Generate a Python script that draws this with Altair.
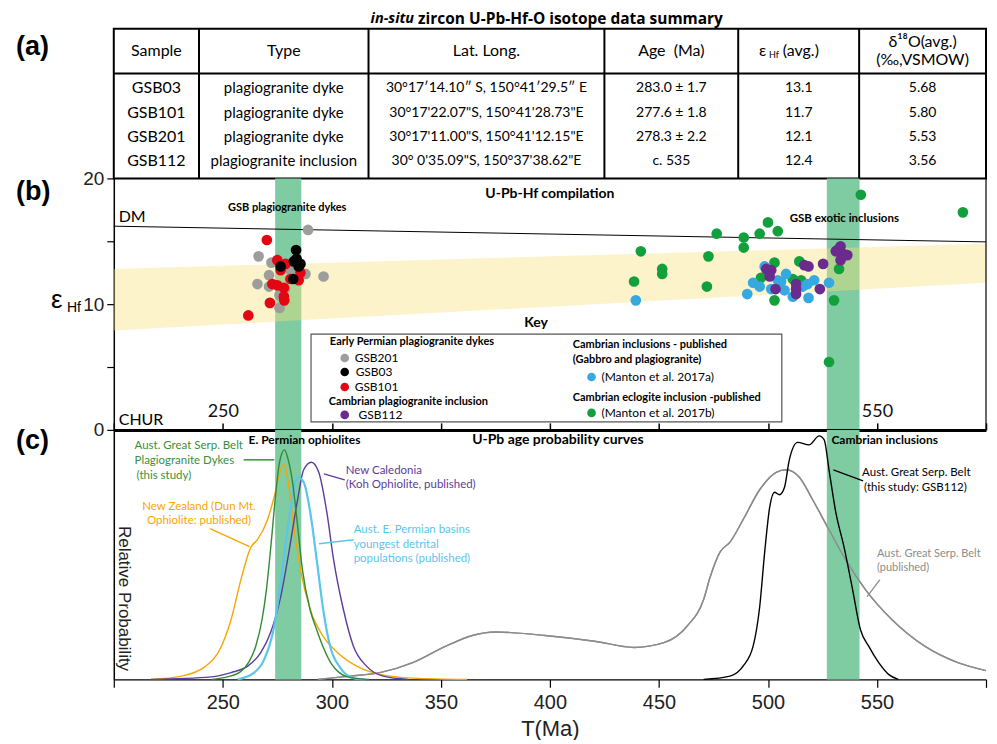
import altair as alt
import pandas as pd

FONT = "Lato"
NUM = "Liberation Sans"

# ---------------- (a) summary table ----------------
tbl_sample = ["GSB03", "GSB101", "GSB201", "GSB112"]
tbl_type = ["plagiogranite dyke", "plagiogranite dyke", "plagiogranite dyke", "plagiogranite inclusion"]
tbl_latlong = ["30°17′14.10″ S, 150°41′29.5″ E", "30°17'22.07\"S, 150°41'28.73\"E",
               "30°17'11.00\"S, 150°41'12.15\"E", "30° 0'35.09\"S, 150°37'38.62\"E"]
tbl_age = ["283.0 ± 1.7", "277.6 ± 1.8", "278.3 ± 2.2", "c. 535"]
tbl_ehf = ["13.1", "11.7", "12.1", "12.4"]
tbl_d18o = ["5.68", "5.80", "5.53", "3.56"]

# ---------------- (b) eHf vs age ----------------
gsb201_age = [266.4, 272.3, 271.2, 265.9, 271.2, 276.0, 276.0, 287.9, 296.2, 289.1, 281.0, 278.5]
gsb201_ehf = [13.8, 13.3, 12.3, 11.6, 11.4, 10.7, 9.7, 12.4, 12.2, 15.9, 12.7, 11.2]
gsb101_age = [270.2, 275.0, 278.8, 276.5, 281.0, 284.8, 272.7, 275.0, 278.0, 278.0, 278.2, 271.6, 261.7, 285.6, 284.1]
gsb101_ehf = [15.1, 13.5, 13.2, 12.7, 12.0, 11.9, 11.6, 11.5, 11.3, 10.6, 10.3, 10.1, 9.1, 12.5, 13.4]
gsb03_age = [283.6, 282.6, 285.6, 284.8, 276.5, 282.3, 283.8]
gsb03_ehf = [14.3, 13.4, 13.2, 13.0, 13.0, 12.0, 13.6]
mantonb_age = [441.7, 438.6, 451.5, 451.5, 472.0, 472.7, 476.5, 488.9, 488.9, 496.2, 500.0, 504.5,
               503.0, 503.0, 496.8, 514.4, 515.2, 511.4, 530.3, 532.6, 528.0, 542.6, 589.4]
mantonb_ehf = [14.2, 11.8, 12.8, 12.4, 11.4, 13.8, 15.6, 15.3, 14.5, 15.6, 16.5, 15.8,
               13.3, 10.3, 12.1, 13.4, 11.9, 12.0, 10.3, 12.8, 5.4, 18.7, 17.3]
mantona_age = [439.4, 490.5, 493.2, 498.5, 496.2, 501.5, 504.5, 508.3, 507.6, 511.4, 515.9, 518.6,
               521.2, 528.0, 518.2, 506.0]
mantona_ehf = [10.3, 10.8, 11.7, 13.0, 11.4, 11.2, 11.9, 12.4, 11.1, 10.6, 11.4, 10.5,
               11.9, 11.7, 11.6, 11.8]
gsb112_age = [499.2, 501.5, 500.8, 503.5, 512.9, 512.9, 512.9, 516.7, 518.6, 525.3, 523.8,
              531.8, 533.3, 536.4, 533.3, 531.1, 534.5]
gsb112_ehf = [12.8, 12.7, 12.2, 11.2, 11.6, 10.8, 11.2, 13.1, 13.0, 13.2, 11.2,
              14.3, 14.6, 13.9, 13.5, 14.2, 14.0]

dm_age = [200, 600]
dm_ehf = [16.2, 14.95]
band_age = [200, 600]
band_lo = [7.9, 11.7]
band_hi = [12.8, 14.8]
bar_start = [274, 527]
bar_end = [286, 542]

# ---------------- (c) probability curves ----------------
dyke_age = [245, 252, 258, 262, 265, 268, 270, 272, 274, 276, 278.3, 280, 282, 284, 286.5, 290, 293, 296, 300, 303, 307, 312, 317]
dyke_p = [0, 0.01, 0.03, 0.07, 0.13, 0.24, 0.36, 0.53, 0.72, 0.87, 0.92, 0.88, 0.79, 0.64, 0.44, 0.28, 0.2, 0.13, 0.06, 0.03, 0.01, 0.003, 0]
nz_age = [217, 231, 241.7, 249.2, 253.8, 258.3, 262.9, 265.9, 270.5, 273.5, 276.5, 278.3, 280.3, 282.6, 285.6, 290.1, 296.2, 302.3, 311.4, 322, 337, 362]
nz_p = [0, 0.013, 0.05, 0.13, 0.24, 0.40, 0.53, 0.56, 0.64, 0.73, 0.84, 0.86, 0.77, 0.61, 0.44, 0.28, 0.17, 0.11, 0.053, 0.02, 0.005, 0]
nc_age = [217, 244.7, 253.8, 261.4, 267.4, 272, 276.5, 280.3, 284.1, 287.1, 290.6, 294, 297.7, 300.8, 305.3, 309.9, 315.9, 323.5, 335]
nc_p = [0, 0.01, 0.027, 0.053, 0.107, 0.19, 0.33, 0.51, 0.71, 0.84, 0.87, 0.83, 0.67, 0.48, 0.28, 0.133, 0.053, 0.013, 0]
basin_age = [256.8, 264.4, 269, 273.5, 277.3, 280.3, 282.6, 284.5, 287.1, 290.1, 293.2, 296.2, 299.2, 303.8, 309.9, 315]
basin_p = [0, 0.027, 0.08, 0.21, 0.44, 0.64, 0.77, 0.81, 0.79, 0.67, 0.47, 0.27, 0.133, 0.047, 0.005, 0]
gsbpub_age = [293.6, 308.3, 322, 337.1, 352.3, 364.4, 375, 397.7, 420.5, 438.6, 452.3, 462.9, 470.5, 473.5, 478,
              482.6, 488.6, 496.2, 503.8, 508.3, 514.4, 520.5, 528, 535.6, 544.7, 556.8, 571.9, 587.1, 600]
gsbpub_p = [0, 0.013, 0.027, 0.067, 0.133, 0.176, 0.19, 0.176, 0.153, 0.128, 0.147, 0.213, 0.32, 0.41, 0.51,
            0.55, 0.64, 0.76, 0.83, 0.84, 0.81, 0.72, 0.6, 0.48, 0.36, 0.24, 0.133, 0.067, 0.035]
gsb112c_age = [470.5, 482.6, 488.6, 493.2, 496.2, 498.5, 500.8, 503, 505.3, 507.6, 509.8, 513.6, 518.9, 523.5,
               525.8, 528, 531.1, 534.9, 538.6, 542.4, 546.2, 550.8, 555.3, 559.8]
gsb112c_p = [0, 0.013, 0.053, 0.133, 0.29, 0.51, 0.69, 0.75, 0.74, 0.77, 0.88, 0.95, 0.94, 0.976,
             0.96, 0.84, 0.67, 0.53, 0.37, 0.2, 0.133, 0.067, 0.02, 0]

tick_vals = [200, 250, 300, 350, 400, 450, 500, 550, 600]

# ---------------- styling / layout ----------------
W = 874              # plot width (keeps the page from being scaled down)
K = W / 880.0        # horizontal factor for annotation placement
HA, HB, HC = 150, 252, 250
XSCALE = alt.Scale(domain=[200, 600], nice=False, zero=False)
BAR_GREEN = "#7fcba2"


def txt(text, x, y, size=12, bold=False, color="#000", align="left", italic=False, font=FONT, angle=None):
    props = dict(fontSize=size, fontWeight="bold" if bold else "normal", color=color,
                 align=align, baseline="middle", font=font)
    if italic:
        props["fontStyle"] = "italic"
    if angle is not None:
        props["angle"] = angle
    return alt.Chart(pd.DataFrame({"t": [text]})).mark_text(**props).encode(
        x=alt.value(x * K if x >= 0 else x), y=alt.value(y), text="t:N")


def seg(x1, y1, x2, y2, color="#000", width=1.0, opacity=1.0):
    return alt.Chart(pd.DataFrame({"k": [0]})).mark_rule(color=color, strokeWidth=width, opacity=opacity).encode(
        x=alt.value(x1 * K if x1 >= 0 else x1), y=alt.value(y1),
        x2=alt.value(x2 * K if x2 >= 0 else x2), y2=alt.value(y2))


# ================= panel (a) =================
col_edges = [0, 86, 257, 495, 630, 752, 880]
col_c = [(col_edges[i] + col_edges[i + 1]) / 2 for i in range(6)]
row_y = [59, 84, 109, 133]
a_layers = [seg(-106, -28, -105, -28, opacity=0)]
a_layers.append(alt.Chart(pd.DataFrame({"k": [0]})).mark_rect(
    fill="white", fillOpacity=0, stroke="black", strokeWidth=2).encode(
    x=alt.value(0), x2=alt.value(W), y=alt.value(0), y2=alt.value(HA)))
for e in col_edges[1:-1]:
    a_layers.append(seg(e, 0, e, HA, width=2))
a_layers.append(seg(0, 45, 880, 45, width=2))
TS = 16
a_layers += [
    txt("Sample", col_c[0], 22, TS, align="center"),
    txt("Type", col_c[1], 22, TS, align="center"),
    txt("Lat. Long.", col_c[2], 22, TS, align="center"),
    txt("Age\u00a0 (Ma)", col_c[3], 22, TS, align="center"),
    txt("ε", 651, 22, TS, align="left"),
    txt("Hf", 661, 26, 9, align="left"),
    txt("(avg.)", 675, 22, TS, align="left"),
    txt("δ¹⁸O(avg.)", col_c[5], 13, TS, align="center"),
    txt("(‰,VSMOW)", col_c[5], 31, TS, align="center"),
    txt("in-situ", 303, -10, 14.5, bold=True, italic=True, align="right", font="Open Sans"),
    txt("zircon U-Pb-Hf-O isotope data summary", 307, -10, 15.5, bold=True, align="left", font="Open Sans"),
    txt("(a)", -98, 18, 27, bold=True, font=NUM),
]
col_size = [16, 15, 14, 14, 14, 14]
cols = [tbl_sample, tbl_type, tbl_latlong, tbl_age, tbl_ehf, tbl_d18o]
for ci, col in enumerate(cols):
    for ri, v in enumerate(col):
        a_layers.append(txt(v, col_c[ci], row_y[ri], col_size[ci], align="center"))
panel_a = alt.layer(*a_layers).properties(width=W, height=HA)

# ================= panel (b) =================
pts = []
for grp, ages, vals in [("GSB201", gsb201_age, gsb201_ehf), ("GSB101", gsb101_age, gsb101_ehf),
                        ("GSB03", gsb03_age, gsb03_ehf), ("Manton b", mantonb_age, mantonb_ehf),
                        ("Manton a", mantona_age, mantona_ehf), ("GSB112", gsb112_age, gsb112_ehf)]:
    for a, v in zip(ages, vals):
        pts.append({"grp": grp, "age": a, "ehf": v})
pts_df = pd.DataFrame(pts)
grp_dom = ["GSB201", "GSB101", "GSB03", "Manton b", "Manton a", "GSB112"]
grp_col = ["#9d9d9c", "#e30613", "#000000", "#12a03c", "#36a9e1", "#6b2a8e"]

YB = alt.Scale(domain=[0, 20], nice=False, zero=False)
yaxis_b = alt.Axis(orient="left", values=[0, 5, 10, 15, 20],
                   labelExpr="datum.value % 10 === 0 ? datum.label : ''",
                   tickSize=7, tickColor="black", domainColor="black", domainWidth=1.5, tickWidth=1.2,
                   labelFontSize=19, labelFont=NUM, labelColor="#222", title=None, grid=False, labelPadding=3)

bars_df = pd.DataFrame({"start": bar_start, "end": bar_end})
band_df = pd.DataFrame({"age": band_age, "lo": band_lo, "hi": band_hi})
dm_df = pd.DataFrame({"age": dm_age, "ehf": dm_ehf})

b_axis_layer = alt.Chart(pts_df).mark_circle(opacity=0, size=1).encode(
    x=alt.X("age:Q", scale=XSCALE, axis=None), y=alt.Y("ehf:Q", scale=YB, axis=yaxis_b))
b_bars = alt.Chart(bars_df).mark_rect(color=BAR_GREEN).encode(
    x=alt.X("start:Q", scale=XSCALE, axis=None), x2="end:Q", y=alt.value(0), y2=alt.value(HB))
b_band = alt.Chart(band_df).mark_area(color="#f7e27a", opacity=0.4).encode(
    x=alt.X("age:Q", scale=XSCALE, axis=None),
    y=alt.Y("lo:Q", scale=YB, axis=None), y2="hi:Q")
b_dm = alt.Chart(dm_df).mark_line(color="black", strokeWidth=1).encode(
    x=alt.X("age:Q", scale=XSCALE, axis=None), y=alt.Y("ehf:Q", scale=YB, axis=None))
b_pts = alt.Chart(pts_df).mark_circle(size=115, opacity=1).encode(
    x=alt.X("age:Q", scale=XSCALE, axis=None), y=alt.Y("ehf:Q", scale=YB, axis=None),
    color=alt.Color("grp:N", scale=alt.Scale(domain=grp_dom, range=grp_col), legend=None))

b_layers = [b_axis_layer, b_bars, b_band, b_dm, seg(880, 0, 880, HB, width=1.2), b_pts]
b_layers += [
    txt("U-Pb-Hf compilation", 440, 16, 14, bold=True, align="center"),
    txt("GSB plagiogranite dykes", 175, 30, 11, bold=True, align="center"),
    txt("GSB exotic inclusions", 682, 41, 11.5, bold=True),
    txt("DM", 5, 39, 16),
    txt("CHUR", 5, 242, 16),
    txt("Key", 426, 145, 14, bold=True, align="center"),
    txt("ε", -63, 122, 26, font=NUM),
    txt("Hf", -47, 130, 14, font=NUM),
    txt("(b)", -98, 14, 27, bold=True, font=NUM),
]
# legend box
b_layers.append(alt.Chart(pd.DataFrame({"k": [0]})).mark_rect(
    fill="white", stroke="#555", strokeWidth=1.2).encode(
    x=alt.value(199 * K), x2=alt.value(674 * K), y=alt.value(156), y2=alt.value(244)))
leg_items = [(233, 180, "#9d9d9c", "GSB201", 243), (233, 194, "#000000", "GSB03", 244),
             (233, 209, "#e30613", "GSB101", 243), (233, 237, "#6b2a8e", "GSB112", 247),
             (482, 199, "#36a9e1", "(Manton et al. 2017a)", 492), (482, 235, "#12a03c", "(Manton et al. 2017b)", 492)]
for (lx, ly, lc, lt, tx) in leg_items:
    b_layers.append(alt.Chart(pd.DataFrame({"k": [0]})).mark_circle(size=75, color=lc, opacity=1).encode(
        x=alt.value(lx * K), y=alt.value(ly)))
    b_layers.append(txt(lt, tx, ly, 12))
b_layers += [
    txt("Early Permian plagiogranite dykes", 218, 164, 11, bold=True),
    txt("Cambrian plagiogranite inclusion", 217, 224, 11, bold=True),
    txt("Cambrian inclusions - published", 463, 167, 11, bold=True),
    txt("(Gabbro and plagiogranite)", 463, 182, 11, bold=True),
    txt("Cambrian eclogite inclusion -published", 463, 220, 11, bold=True),
]
panel_b = alt.layer(*b_layers).resolve_axis(y="independent").properties(width=W, height=HB)

# ================= panel (c) =================
YC = alt.Scale(domain=[0, 1], nice=False, zero=False)
bottom_axis = alt.Axis(orient="bottom", values=tick_vals,
                       labelExpr="(datum.value > 200 && datum.value < 600) ? datum.label : ''",
                       tickSize=8, tickColor="black", tickWidth=1.2, domainColor="black", domainWidth=1.5,
                       labelFontSize=20, labelFont=NUM, labelColor="#222", labelPadding=5,
                       title="T(Ma)", titleFont=NUM, titleFontSize=22, titleFontWeight="normal",
                       titleColor="#222", titlePadding=6, grid=False)
top_axis = alt.Axis(orient="top", values=tick_vals,
                    labelExpr="(datum.value == 250 || datum.value == 550) ? datum.label : ''",
                    tickSize=7, tickColor="black", tickWidth=1.5, domainColor="black", domainWidth=3,
                    labelFontSize=18, labelFont=FONT, labelColor="#111", labelPadding=2, title=None, grid=False)
left_axis = alt.Axis(orient="left", ticks=False, labels=False, domain=True, domainColor="black",
                     domainWidth=1.5, title=None, grid=False)

c_bars = alt.Chart(bars_df).mark_rect(color=BAR_GREEN).encode(
    x=alt.X("start:Q", scale=XSCALE, axis=top_axis), x2="end:Q", y=alt.value(0), y2=alt.value(HC))


def curve(ages, ps, color, width, first=False):
    df = pd.DataFrame({"age": ages, "p": ps})
    return alt.Chart(df).mark_line(color=color, strokeWidth=width, interpolate="monotone").encode(
        x=alt.X("age:Q", scale=XSCALE, axis=bottom_axis if first else None),
        y=alt.Y("p:Q", scale=YC, axis=left_axis if first else None))


c_layers = [
    curve(gsbpub_age, gsbpub_p, "#8c8c8c", 1.4, first=True),
    c_bars,
    curve(gsbpub_age, gsbpub_p, "#8c8c8c", 1.4),
    curve(nz_age, nz_p, "#f7a600", 1.4),
    curve(nc_age, nc_p, "#5b3c9b", 1.4),
    curve(basin_age, basin_p, "#5bc5ec", 2.2),
    curve(dyke_age, dyke_p, "#2f8b34", 1.4),
    curve(gsb112c_age, gsb112c_p, "#000000", 1.4),
]
GC, OC, PC, BC, KC, GRC = "#3a8f3a", "#f7a600", "#5b3c9b", "#5bc5ec", "#000000", "#8c8c8c"
c_layers += [
    txt("U-Pb age probability curves", 448, 10, 14, bold=True, align="center"),
    txt("E. Permian ophiolites", 136, 10, 12, bold=True),
    txt("Cambrian inclusions", 724, 10, 12, bold=True),
    txt("Aust. Great Serp. Belt", 21, 16, 11.5, color=GC),
    txt("Plagiogranite Dykes", 21, 31, 11.5, color=GC),
    txt("(this study)", 23, 46, 11.5, color=GC),
    seg(131, 30, 162, 30, GC, 1.5),
    txt("New Zealand (Dun Mt.", 86, 77, 11.5, color=OC, align="center"),
    txt("Ophiolite: published)", 86, 91, 11.5, color=OC, align="center"),
    seg(97, 99, 137, 117, OC, 1.3),
    txt("New Caledonia", 234, 41, 11.5, color=PC),
    txt("(Koh Ophiolite, published)", 234, 55, 11.5, color=PC),
    seg(212, 44, 233, 50, PC, 1.3),
    txt("Aust. E. Permian basins", 242, 100, 11.5, color=BC),
    txt("youngest detrital", 242, 115, 11.5, color=BC),
    txt("populations (published)", 242, 129, 11.5, color=BC),
    seg(207, 114, 242, 110, BC, 1.5),
    txt("Aust. Great Serp. Belt", 755, 43, 11.5, color=KC),
    txt("(this study: GSB112)", 757, 58, 11.5, color=KC),
    seg(726, 40, 756, 51, KC, 1.3),
    txt("Aust. Great Serp. Belt", 770, 124, 11, color=GRC),
    txt("(published)", 770, 138, 11, color=GRC),
    seg(760, 167, 773, 150, GRC, 1.3),
    txt("Relative Probability", 10, 169, 17, font=NUM, align="center", angle=90, color="#222"),
    txt("(c)", -98, 11, 27, bold=True, font=NUM),
]
panel_c = alt.layer(*c_layers).resolve_axis(x="independent", y="independent").properties(width=W, height=HC)

chart = alt.vconcat(panel_a, panel_b, panel_c, spacing=0, bounds="flush").properties(
    padding={"left": 0, "top": -8, "right": 0, "bottom": 0}
).configure_view(stroke=None)

chart.save("out.html", embed_options={"renderer": "svg", "actions": False})
